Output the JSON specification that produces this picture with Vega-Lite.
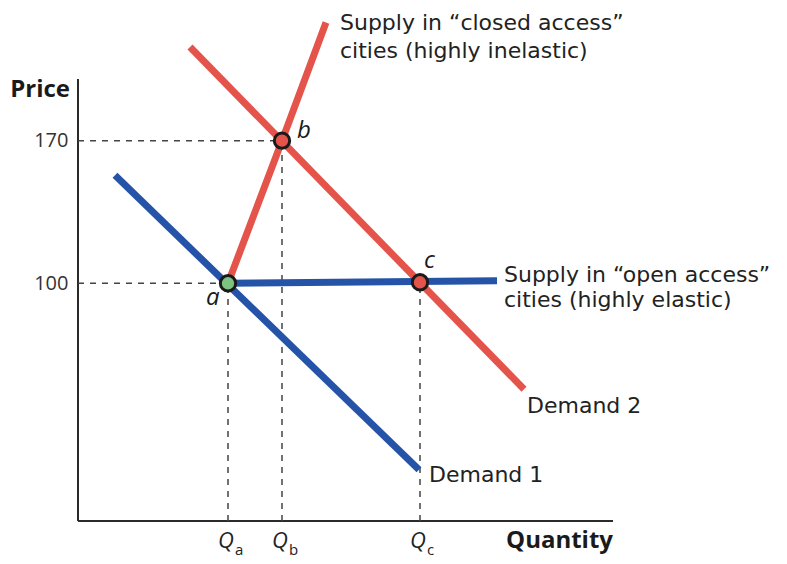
{
  "$schema": "https://vega.github.io/schema/vega-lite/v6.json",
  "width": 535,
  "height": 503,
  "autosize": {"type": "none"},
  "padding": {"left": 78, "top": 18, "right": 174, "bottom": 43},
  "background": "white",
  "config": {"view": {"stroke": null}, "font": "Open Sans"},
  "datasets": {
    "curves": [
      {"curve": "Demand 1", "q": 37, "price": 153},
      {"curve": "Demand 1", "q": 341, "price": 8.5},
      {"curve": "Demand 2", "q": 112, "price": 216},
      {"curve": "Demand 2", "q": 446, "price": 48},
      {"curve": "Supply closed", "q": 150, "price": 100},
      {"curve": "Supply closed", "q": 204, "price": 170},
      {"curve": "Supply closed", "q": 248, "price": 228},
      {"curve": "Supply open", "q": 150, "price": 100},
      {"curve": "Supply open", "q": 419, "price": 101.2}
    ],
    "points": [
      {"pt": "a", "q": 150, "price": 100, "fill": "green"},
      {"pt": "b", "q": 204, "price": 170, "fill": "red"},
      {"pt": "c", "q": 342, "price": 100.5, "fill": "red"}
    ],
    "hdash": [
      {"q0": 0, "q1": 204, "price": 170},
      {"q0": 0, "q1": 150, "price": 100}
    ],
    "vdash": [
      {"q": 150, "p0": -16.69, "p1": 100},
      {"q": 204, "p0": -16.69, "p1": 170},
      {"q": 342, "p0": -16.69, "p1": 100.5}
    ],
    "axes": [
      {"q0": 0, "q1": 0, "p0": -16.69, "p1": 200.3},
      {"q0": 0, "q1": 535, "p0": -16.69, "p1": -16.69}
    ],
    "qlabels": [
      {"q": 150, "main": "Q", "sub": "a"},
      {"q": 204, "main": "Q", "sub": "b"},
      {"q": 342, "main": "Q", "sub": "c"}
    ],
    "curvelabels": [
      {"q": 262, "price": 224.3, "label": "Supply in “closed access”"},
      {"q": 262, "price": 210.6, "label": "cities (highly inelastic)"},
      {"q": 426, "price": 100.6, "label": "Supply in “open access”"},
      {"q": 426, "price": 88.4, "label": "cities (highly elastic)"},
      {"q": 449, "price": 36.4, "label": "Demand 2"},
      {"q": 351, "price": 2.5, "label": "Demand 1"}
    ],
    "ptlabels": [
      {"q": 128, "price": 89.5, "label": "a"},
      {"q": 219, "price": 171.3, "label": "b"},
      {"q": 346, "price": 107.5, "label": "c"}
    ],
    "titles": [
      {"q": -8, "price": 191.5, "label": "Price"},
      {"q": 535, "price": -29.9, "label": "Quantity"}
    ]
  },
  "layer": [
    {
      "data": {"name": "axes"},
      "mark": {"type": "rule", "color": "#2b2b2b", "strokeWidth": 2},
      "encoding": {
        "x": {"field": "q0", "type": "quantitative", "scale": {"domain": [0, 535], "nice": false, "zero": false}, "axis": null},
        "x2": {"field": "q1"},
        "y": {"field": "p0", "type": "quantitative", "scale": {"domain": [-16.69, 230.23], "nice": false, "zero": false},
              "axis": {"values": [100, 170], "domain": false, "ticks": false, "grid": false, "labelPadding": 10, "labelFontSize": 20, "labelColor": "#333333", "labelFont": "Open Sans", "title": null}},
        "y2": {"field": "p1"}
      }
    },
    {
      "data": {"name": "hdash"},
      "mark": {"type": "rule", "color": "#444444", "strokeWidth": 1.5, "strokeDash": [6, 6]},
      "encoding": {
        "x": {"field": "q0", "type": "quantitative"},
        "x2": {"field": "q1"},
        "y": {"field": "price", "type": "quantitative"}
      }
    },
    {
      "data": {"name": "vdash"},
      "mark": {"type": "rule", "color": "#444444", "strokeWidth": 1.5, "strokeDash": [6, 6]},
      "encoding": {
        "x": {"field": "q", "type": "quantitative"},
        "y": {"field": "p0", "type": "quantitative"},
        "y2": {"field": "p1"}
      }
    },
    {
      "data": {"name": "curves"},
      "mark": {"type": "line", "strokeWidth": 7, "strokeCap": "butt"},
      "encoding": {
        "x": {"field": "q", "type": "quantitative"},
        "y": {"field": "price", "type": "quantitative"},
        "detail": {"field": "curve"},
        "order": {"field": "q"},
        "color": {"field": "curve", "type": "nominal", "legend": null,
                  "scale": {"domain": ["Demand 1", "Demand 2", "Supply closed", "Supply open"], "range": ["#2553a8", "#e5544b", "#e5544b", "#2553a8"]}}
      }
    },
    {
      "data": {"name": "points"},
      "mark": {"type": "point", "filled": true, "size": 235, "stroke": "#1a1a1a", "strokeWidth": 3, "opacity": 1},
      "encoding": {
        "x": {"field": "q", "type": "quantitative"},
        "y": {"field": "price", "type": "quantitative"},
        "fill": {"field": "fill", "type": "nominal", "legend": null, "scale": {"domain": ["green", "red"], "range": ["#7cc47f", "#e5544b"]}}
      }
    },
    {
      "data": {"name": "curvelabels"},
      "mark": {"type": "text", "align": "left", "baseline": "alphabetic", "fontSize": 22, "color": "#222222", "font": "DejaVu Sans"},
      "encoding": {
        "x": {"field": "q", "type": "quantitative"},
        "y": {"field": "price", "type": "quantitative"},
        "text": {"field": "label"}
      }
    },
    {
      "data": {"name": "ptlabels"},
      "mark": {"type": "text", "align": "left", "baseline": "alphabetic", "fontSize": 24, "fontStyle": "italic", "color": "#1a1a1a", "font": "Open Sans"},
      "encoding": {
        "x": {"field": "q", "type": "quantitative"},
        "y": {"field": "price", "type": "quantitative"},
        "text": {"field": "label"}
      }
    },
    {
      "data": {"name": "titles"},
      "mark": {"type": "text", "align": "right", "baseline": "alphabetic", "fontSize": 24, "fontWeight": "bold", "color": "#1a1a1a", "font": "Open Sans"},
      "encoding": {
        "x": {"field": "q", "type": "quantitative"},
        "y": {"field": "price", "type": "quantitative"},
        "text": {"field": "label"}
      }
    },
    {
      "data": {"name": "qlabels"},
      "mark": {"type": "text", "align": "center", "baseline": "alphabetic", "fontSize": 22, "fontStyle": "italic", "color": "#222222", "font": "Open Sans", "dx": -2, "dy": 27},
      "encoding": {
        "x": {"field": "q", "type": "quantitative"},
        "y": {"datum": -16.69, "type": "quantitative"},
        "text": {"field": "main"}
      }
    },
    {
      "data": {"name": "qlabels"},
      "mark": {"type": "text", "align": "left", "baseline": "alphabetic", "fontSize": 15, "color": "#222222", "font": "Open Sans", "dx": 7, "dy": 34},
      "encoding": {
        "x": {"field": "q", "type": "quantitative"},
        "y": {"datum": -16.69, "type": "quantitative"},
        "text": {"field": "sub"}
      }
    }
  ]
}
